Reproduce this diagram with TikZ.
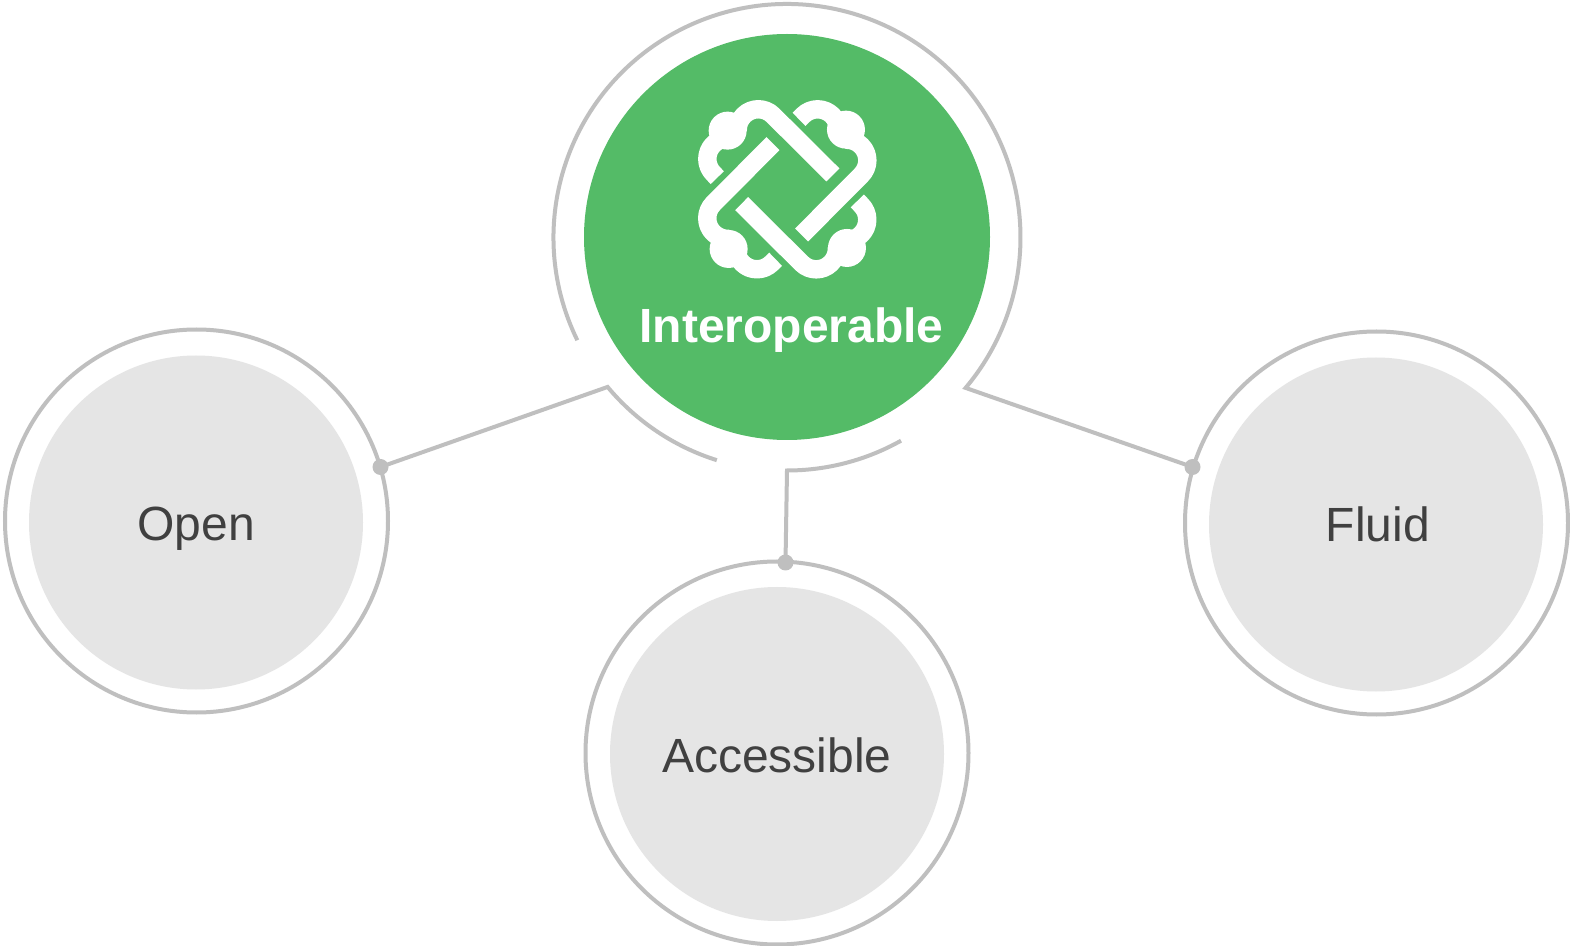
\documentclass[tikz,border=0pt]{standalone}
\usepackage{fontspec}
\setmainfont{Liberation Sans}
\definecolor{gr}{HTML}{54BB67}
\definecolor{lg}{HTML}{E5E5E5}
\definecolor{st}{HTML}{BFBFBF}
\definecolor{tx}{HTML}{404040}
\tikzset{
  ring/.style={circle,draw=st,line width=2pt,fill=white,minimum size=191.5pt,inner sep=0pt},
  disc/.style={circle,fill=lg,minimum size=167pt,inner sep=0pt},
  satlabel/.style={anchor=base,text=tx,inner sep=0pt,font=\fontsize{24}{28}\selectfont},
  hub/.style={circle,fill=gr,minimum size=203pt,inner sep=0pt},
  dotnode/.style={circle,fill=st,minimum size=8pt,inner sep=0pt},
  wire/.style={draw=st,line width=2pt},
  strap/.style={draw=white,line width=9.2pt,line join=round}
}
\begin{document}
\begin{tikzpicture}[x=0.5pt,y=-0.5pt]
\useasboundingbox (0,0) rectangle (1570,946);
\fill[white] (0,0) rectangle (1570,946);
\coordinate (gc) at (787,237.5);
% satellite circles
\node[ring] (openring) at (196.5,521) {};
\node[disc] (opendisc) at (196,522.5) {};
\node[satlabel] (openlabel) at (196,540.5) {Open};
\node[ring] (fluidring) at (1376.5,523) {};
\node[disc] (fluiddisc) at (1376,524.5) {};
\node[satlabel] (fluidlabel) at (1378,542) {Fluid};
\node[ring] (accring) at (777,753) {};
\node[disc] (accdisc) at (777,754) {};
\node[satlabel] (acclabel) at (777,772) {Accessible};
% hub
\node[hub] (hub) at (787,237) {};
\node[anchor=base,inner sep=0pt,font=\bfseries\fontsize{24}{28}\selectfont,text=white] (hublabel) at (791.5,343) {Interoperable};
% connector ends
\node[dotnode] (dopen) at (380.5,467) {};
\node[dotnode] (dfluid) at (1192.5,467) {};
\node[dotnode] (dacc) at (785.5,562.5) {};
\path (gc) ++(219.8:116.75pt) coordinate (kinka);
\path (gc) ++(270:116.5pt) coordinate (kinkc);
\path (gc) ++(206.1:116.75pt) coordinate (starta);
% arcs and connectors
\draw[wire] (starta) arc[start angle=206.1,end angle=-40.1,radius=116.75pt] -- (dfluid.center);
\draw[wire] (dopen.center) -- (kinka) arc[start angle=219.8,end angle=252.5,radius=116.75pt];
\draw[wire] (dacc.center) -- (kinkc) arc[start angle=270,end angle=299.3,radius=116.5pt];
% icon
\foreach \r in {0,90,180,270}{
\begin{scope}[shift={(787.3,189.3)},rotate=\r,x=0.16667pt,y=0.16667pt]
  \draw[strap] (137,43) -- (-43,222) arc[start angle=45,end angle=182,radius=10.33pt];
  \draw[strap] (-178,153) arc[start angle=90,end angle=225,radius=10.33pt] -- (-210,35);
  \fill[white] (-179,176) circle[radius=9.5pt];
\end{scope}}
\end{tikzpicture}
\end{document}
